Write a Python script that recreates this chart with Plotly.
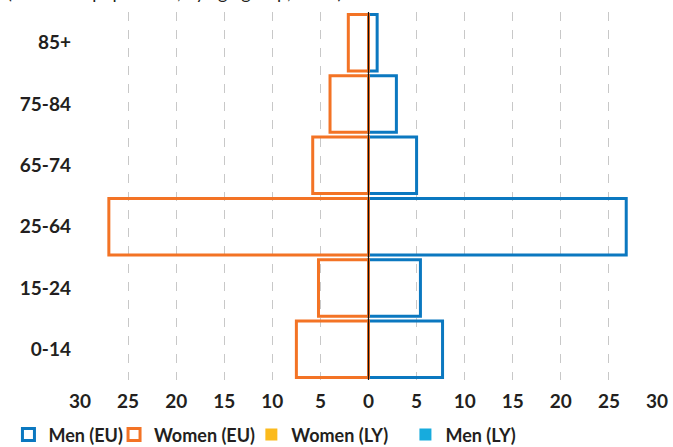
import plotly.graph_objects as go

age_groups = ["0-14", "15-24", "25-64", "65-74", "75-84", "85+"]
men_eu = [7.7, 5.4, 26.8, 5.0, 2.9, 0.9]
women_eu = [7.5, 5.2, 27.0, 5.8, 4.0, 2.1]
women_ly = [None, None, None, None, None, None]
men_ly = [None, None, None, None, None, None]

tick_vals = [-30, -25, -20, -15, -10, -5, 0, 5, 10, 15, 20, 25, 30]
tick_text = ["30", "25", "20", "15", "10", "5", "0", "5", "10", "15", "20", "25", "30"]

BLUE = "#0B78C0"
ORANGE = "#F37325"
YELLOW = "#FBBA1C"
CYAN = "#17ABDD"
TEXT = "#231F20"
FONT = "Lato"


def neg(values):
    return [None if v is None else -v for v in values]


fig = go.Figure()
fig.add_trace(go.Bar(
    y=age_groups, x=men_eu, orientation="h", name="Men (EU)", legend="legend",
    marker=dict(color="rgba(255,255,255,0)", line=dict(color=BLUE, width=3)),
))
fig.add_trace(go.Bar(
    y=age_groups, x=neg(women_eu), orientation="h", name="Women (EU)", legend="legend2",
    marker=dict(color="rgba(255,255,255,0)", line=dict(color=ORANGE, width=3)),
))
fig.add_trace(go.Bar(
    y=age_groups, x=neg(women_ly), orientation="h", name="Women (LY)", legend="legend3",
    marker=dict(color=YELLOW, line=dict(width=0)),
))
fig.add_trace(go.Bar(
    y=age_groups, x=men_ly, orientation="h", name="Men (LY)", legend="legend4",
    marker=dict(color=CYAN, line=dict(width=0)),
))

fig.add_shape(type="line", x0=0, x1=0, y0=0, y1=1, xref="x", yref="paper",
              line=dict(color="#111111", width=1.2), layer="above")

# title line above the chart, cut off by the top edge as in the source picture
fig.add_annotation(
    text="(% of total population, by age group, 2019)",
    x=-0.13, xref="paper", xanchor="left",
    y=1.019, yref="paper", yanchor="bottom",
    showarrow=False, font=dict(family=FONT, size=18, color=TEXT),
)

legend_font = dict(family=FONT, size=18, color=TEXT, weight="bold")
legend_common = dict(orientation="h", y=-0.149, yanchor="middle", xanchor="left",
                     font=legend_font, itemwidth=30, bgcolor="rgba(0,0,0,0)")

fig.update_layout(
    width=673, height=447,
    margin=dict(l=80, r=16, t=12, b=67, autoexpand=False),
    barmode="overlay", bargap=0.08,
    plot_bgcolor="white", paper_bgcolor="white",
    font=dict(family=FONT, size=19, color=TEXT),
    showlegend=True,
    legend=dict(x=-0.124, **legend_common),
    legend2=dict(x=0.059, **legend_common),
    legend3=dict(x=0.297, **legend_common),
    legend4=dict(x=0.564, **legend_common),
    xaxis=dict(range=[-30, 30], tickvals=tick_vals, ticktext=tick_text,
               showgrid=True, gridcolor="#C8C8C8", griddash="dash", gridwidth=1,
               zeroline=False, showline=False, ticks="", ticklabelstandoff=8,
               tickfont=dict(family=FONT, size=19, weight="bold"), fixedrange=True),
    yaxis=dict(showgrid=False, zeroline=False, showline=False, ticks="",
               ticklabelstandoff=8,
               tickfont=dict(family=FONT, size=19, weight="bold"), fixedrange=True),
)

fig.write_html("out.html", config={"displayModeBar": False},
               post_script="document.body.style.margin = '0';")
